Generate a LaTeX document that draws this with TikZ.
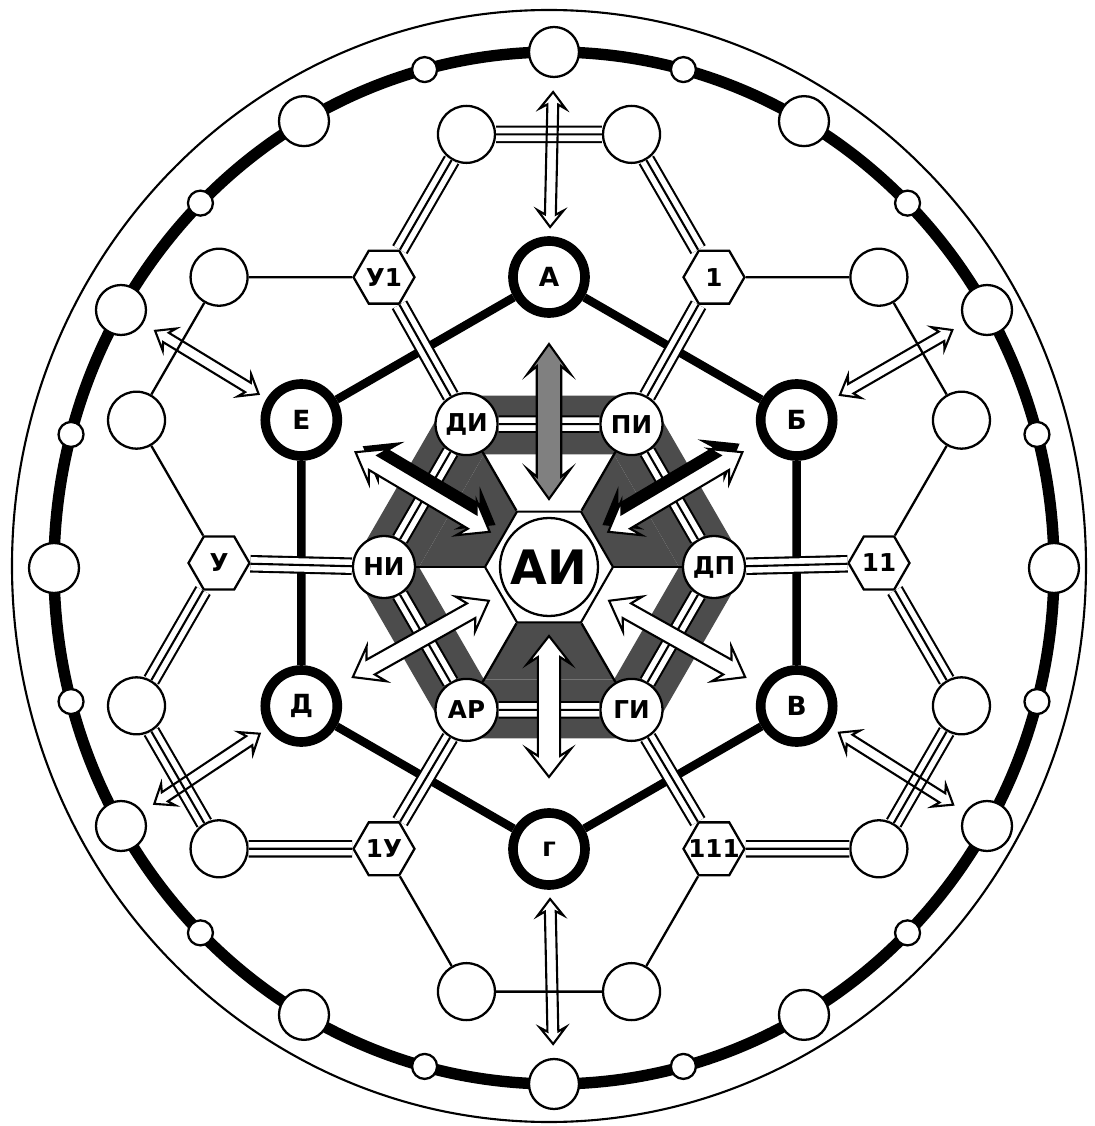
\documentclass[tikz,border=0pt]{standalone}
\usepackage{fontspec}
\setmainfont{DejaVu Sans}
\usetikzlibrary{positioning,calc,shapes.geometric}

% outlined double-headed arrow from #2 to #3
% #4 half shaft, #5 half head, #6 head length
\newcommand{\twoway}[6][]{%
  \draw[line width=1.2pt, line join=miter, #1]
    let \p1=#2, \p2=#3,
        \n1={atan2(\y2-\y1,\x2-\x1)}, \n2={veclen(\x2-\x1,\y2-\y1)} in
    (\p1) -- ($(\p1)+(\n1:#6)+(\n1+90:#5)$)
    -- ($(\p1)+(\n1:#6*0.75)+(\n1+90:#4)$)
    -- ($(\p1)+(\n1:\n2-#6*0.75)+(\n1+90:#4)$)
    -- ($(\p1)+(\n1:\n2-#6)+(\n1+90:#5)$)
    -- (\p2)
    -- ($(\p1)+(\n1:\n2-#6)+(\n1-90:#5)$)
    -- ($(\p1)+(\n1:\n2-#6*0.75)+(\n1-90:#4)$)
    -- ($(\p1)+(\n1:#6*0.75)+(\n1-90:#4)$)
    -- ($(\p1)+(\n1:#6)+(\n1-90:#5)$)
    -- cycle;}

\begin{document}
\begin{tikzpicture}[x=0.02cm, y=0.02cm,
  ringbig/.style={circle, draw, fill=white, line width=1.3pt, minimum size=1cm, inner sep=0pt},
  ringsmall/.style={ringbig, minimum size=0.5cm},
  cellnode/.style={circle, draw, fill=white, line width=1.3pt, minimum size=1.14cm, inner sep=0pt},
  hub/.style={circle, draw, fill=white, line width=5.5pt, minimum size=1.44cm, inner sep=0pt, font=\fontsize{15}{15}\selectfont\bfseries},
  innode/.style={circle, draw, fill=white, line width=1.3pt, minimum size=1.24cm, inner sep=-2pt, font=\fontsize{14}{14}\selectfont\bfseries},
  numhex/.style={regular polygon, regular polygon sides=6, draw, fill=white, line width=1.3pt, minimum size=1.22cm, inner sep=-4pt, font=\fontsize{14}{14}\selectfont\bfseries},
  corehex/.style={regular polygon, regular polygon sides=6, draw, fill=white, line width=1.2pt, minimum size=2.56cm, inner sep=0pt},
  core/.style={circle, draw, line width=1.3pt, minimum size=1.96cm, inner sep=0pt, font=\fontsize{27}{27}\selectfont\bfseries},
  link/.style={line width=1.3pt},
  bond/.style={line width=4.8pt},
  triple/.style={line width=10pt, postaction={draw=white, line width=7.6pt}, postaction={draw=black, line width=1.2pt}},
  murk/.style={fill=black!70}
]
  \useasboundingbox (-549,-559) rectangle (546,567);

  % rims
  \draw[line width=1.2pt] (0,1) ellipse [x radius=537, y radius=556];
  \draw[line width=6.5pt] (5,-1) ellipse [x radius=500, y radius=516];

  % dark band round the inner ring
  \fill[murk, even odd rule] (0:198) \foreach \a in {60,120,...,300} {-- (\a:198)} -- cycle
    (0:130) \foreach \a in {60,120,...,300} {-- (\a:130)} -- cycle;
  \foreach \a in {0,120,240}
    \fill[murk] (\a:64) -- (\a+60:64) -- (\a+60:130) -- (\a:130) -- cycle;

  \foreach \t in {0,30,...,330}
    \node[ringbig] (r\t) at ($(5,-1)+(\t:500 and 516)$) {};
  \foreach \t in {15,45,...,345}
    \node[ringsmall] (s\t) at ($(5,-1)+(\t:500 and 516)$) {};

  \node[corehex] (aihex) at (0,0) {};
  \node[core] (ai) at (0,0) {АИ};

  \node[innode] (dp) at (0:165) {ДП};
  \node[innode] (pi) at (60:165) {ПИ};
  \node[innode] (di) at (120:165) {ДИ};
  \node[innode] (ni) at (180:165) {НИ};
  \node[innode] (ar) at (240:165) {АР};
  \node[innode] (gi) at (300:165) {ГИ};

  \begin{scope}[shift={(0,4)}]
    \node[hub] (hubA) at (90:286) {А};
    \node[hub] (hubB) at (30:286) {Б};
    \node[hub] (hubV) at (-30:286) {В};
    \node[hub] (hubG) at (-90:286) {г};
    \node[hub] (hubD) at (-150:286) {Д};
    \node[hub] (hubE) at (150:286) {Е};

    \node[numhex] (num1) at (60:330) {1};
    \node[numhex] (num2) at (0:330) {11};
    \node[numhex] (num3) at (-60:330) {111};
    \node[numhex] (num4) at (-120:330) {1У};
    \node[numhex] (num5) at (180:330) {У};
    \node[numhex] (num6) at (120:330) {У1};

    % two outer cells round each hub
    \foreach \h/\a in {A/90, B/30, V/-30, G/-90, D/-150, E/150} {
      \node[cellnode] (cell\h1) at (\a-10.9:436.5) {};
      \node[cellnode] (cell\h2) at (\a+10.9:436.5) {};
    }
  \end{scope}

  \draw[bond] (hubA) -- (hubB) -- (hubV) -- (hubG) -- (hubD) -- (hubE) -- (hubA);

  \draw[triple] (dp) -- (pi) -- (di) -- (ni) -- (ar) -- (gi) -- (dp);
  \foreach \i/\n in {dp/num2, pi/num1, di/num6, ni/num5, ar/num4, gi/num3}
    \draw[triple] (\i) -- (\n);

  \draw[triple] (num1) -- (cellA1) -- (cellA2) -- (num6);
  \draw[triple] (num3) -- (cellV1) -- (cellV2) -- (num2);
  \draw[triple] (num5) -- (cellD1) -- (cellD2) -- (num4);
  \draw[link] (num2) -- (cellB1) -- (cellB2) -- (num1);
  \draw[link] (num4) -- (cellG1) -- (cellG2) -- (num3);
  \draw[link] (num6) -- (cellE1) -- (cellE2) -- (num5);

  \foreach \a/\n in {0/dp, 60/pi, 120/di, 180/ni, 240/ar, 300/gi}
    \draw[link] (aihex.\a) -- (\n);

  % outer arrows
  \foreach \h/\r in {hubA/r90, hubB/r30, hubV/r330, hubG/r270, hubD/r210, hubE/r150}
    \twoway{($(\h)!1cm!(\r)$)}{($(\r)!0.8cm!(\h)$)}{3.1pt}{7.4pt}{9.5pt};

  % inner arrows
  \twoway[fill=black, transform canvas={shift={(60:5pt)}}]{($(ai)!1.38cm!(hubE)$)}{($(ai)!4.4cm!(hubE)$)}{5.4pt}{12pt}{16pt};
  \twoway[fill=black, transform canvas={shift={(120:5pt)}}]{($(ai)!1.38cm!(hubB)$)}{($(ai)!4.5cm!(hubB)$)}{5.4pt}{12pt}{16pt};
  \foreach \h in {hubB, hubV, hubD, hubE}
    \twoway[fill=white]{($(ai)!1.38cm!(\h)$)}{($(ai)!4.5cm!(\h)$)}{4.8pt}{11.4pt}{15.4pt};
  \twoway[fill=black!50]{($(ai)!1.36cm!(hubA)$)}{($(ai)!4.46cm!(hubA)$)}{7pt}{12.2pt}{17pt};
  \twoway[fill=white]{($(ai)!1.38cm!(hubG)$)}{($(ai)!4.2cm!(hubG)$)}{6.3pt}{12.5pt}{16pt};
\end{tikzpicture}
\end{document}
